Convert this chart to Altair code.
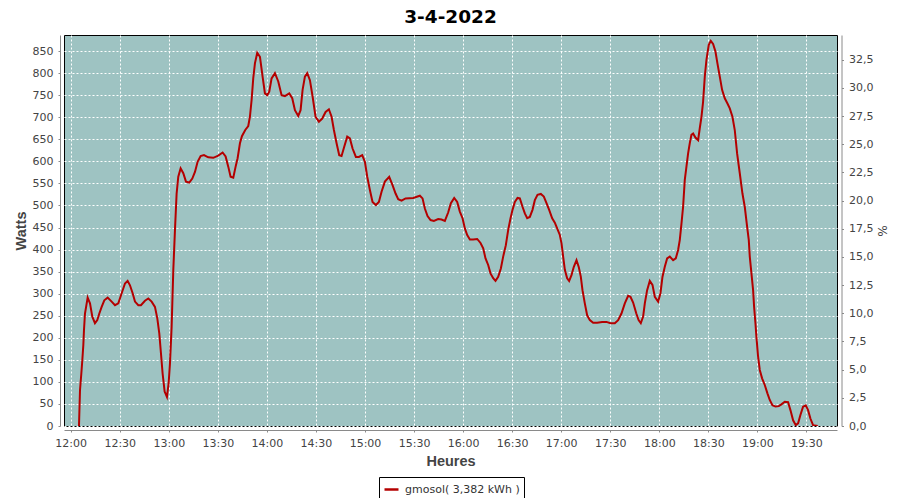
import altair as alt
import pandas as pd

# minutes after 12:00 and power readings (W)
minutes_after_noon = [
    5.07, 5.69, 6.50, 7.11, 7.72, 8.13, 8.74, 10.38, 11.80, 13.23, 14.86, 16.28, 17.51, 18.94, 20.56, 22.60,
    25.05, 27.09, 29.12, 31.17, 33.20, 34.83, 36.26, 37.89, 39.32, 41.35, 42.98, 45.43, 47.47, 49.51, 51.54,
    52.97, 54.19, 55.21, 56.23, 57.46, 58.88, 59.90, 60.72, 61.74, 62.75, 63.77, 64.79, 65.81, 67.24, 68.87,
    70.50, 72.53, 74.37, 76.00, 77.63, 79.47, 81.50, 84.15, 87.21, 90.27, 92.92, 94.75, 96.38, 97.81, 99.44,
    100.87, 102.09, 103.52, 104.74, 106.78, 108.61, 109.63, 110.65, 111.66, 112.69, 114.11, 115.75, 117.38,
    118.80, 120.23, 121.45, 122.88, 124.92, 126.95, 128.99, 131.03, 133.68, 135.51, 137.15, 139.18, 140.61,
    141.84, 143.26, 144.69, 146.32, 147.95, 149.78, 151.82, 153.86, 155.90, 157.93, 159.57, 160.99, 162.62,
    164.25, 165.68, 167.31, 169.14, 170.78, 172.41, 174.44, 176.28, 178.31, 179.95, 181.37, 183.00, 184.63,
    186.67, 188.51, 190.14, 192.18, 194.82, 196.86, 198.70, 200.33, 202.37, 204.81, 209.50, 213.58, 215.21,
    216.63, 218.26, 220.10, 222.14, 224.78, 226.82, 228.86, 230.88, 232.53, 234.57, 236.40, 238.03, 239.67,
    241.09, 242.52, 244.15, 246.18, 248.63, 250.67, 252.30, 253.73, 255.36, 256.78, 258.41, 259.84, 261.47,
    263.10, 264.53, 266.16, 267.58, 269.02, 270.24, 271.66, 273.30, 274.72, 276.35, 277.78, 279.20, 280.83,
    282.46, 283.89, 285.52, 287.56, 289.39, 291.03, 292.65, 294.49, 296.12, 297.54, 299.18, 300.20, 301.21,
    302.24, 303.66, 304.88, 306.31, 307.74, 309.37, 310.79, 312.02, 313.04, 314.46, 315.89, 317.52, 319.55,
    322.00, 325.06, 327.71, 330.16, 332.81, 334.84, 336.88, 338.92, 340.96, 342.39, 344.01, 345.95, 347.36,
    348.70, 350.13, 351.15, 352.57, 354.21, 355.84, 357.27, 359.30, 360.73, 361.95, 363.38, 364.80, 366.44,
    368.47, 370.10, 371.53, 372.55, 373.57, 374.58, 375.61, 376.63, 377.64, 378.66, 379.68, 380.70, 382.13,
    383.76, 384.78, 385.80, 386.81, 387.84, 388.86, 390.28, 391.51, 392.93, 394.36, 395.58, 397.01, 398.43,
    400.06, 401.70, 403.12, 404.76, 406.18, 407.60, 409.24, 410.87, 412.29, 413.72, 414.74, 415.35, 416.37,
    417.39, 418.00, 418.82, 419.43, 420.44, 421.47, 422.89, 424.52, 426.15, 427.58, 429.21, 431.05, 433.08,
    434.72, 436.75, 438.79, 440.22, 441.85, 443.48, 444.91, 446.33, 447.96, 449.59, 451.01, 452.44, 454.07,
    456.93,
]
watts = [
    0, 81, 119, 149, 183, 217, 255, 291, 278, 248, 233, 240, 255, 270, 285, 291,
    282, 274, 278, 301, 323, 329, 319, 301, 282, 274, 274, 284, 289, 282, 270,
    244, 210, 165, 119, 78, 66, 97, 142, 225, 353, 444, 527, 565, 584, 573,
    554, 552, 561, 576, 599, 612, 614, 609, 608, 613, 620, 611, 588, 565, 563,
    588, 607, 641, 657, 671, 680, 701, 739, 788, 822, 846, 837, 792,
    754, 750, 758, 788, 800, 781, 750, 748, 754, 743, 716, 703, 716,
    762, 792, 800, 784, 747, 701, 690, 697, 712, 718, 701, 671, 641,
    614, 612, 633, 656, 652, 629, 610, 610, 614, 599, 565, 535, 508,
    501, 508, 531, 554, 565, 546, 527, 514, 511, 516, 517, 522, 516,
    493, 476, 467, 465, 469, 468, 465, 484, 505, 517, 508, 486, 471,
    448, 433, 423, 423, 424, 415, 403, 380, 365, 346, 335, 329, 338,
    357, 384, 410, 444, 471, 490, 508, 517, 516, 497, 482, 471, 474,
    490, 512, 524, 526, 520, 505, 490, 471, 461, 448, 433, 414, 384,
    354, 335, 329, 342, 361, 376, 360, 338, 308, 278, 251, 240, 234,
    234, 236, 236, 233, 233, 240, 255, 278, 295, 293, 280, 255, 240,
    233, 248, 278, 308, 329, 320, 293, 282, 301, 338, 361, 380, 384,
    376, 380, 399, 422, 459, 497, 558, 588, 618, 641, 660, 663, 654,
    648, 675, 701, 735, 792, 830, 864, 873, 866, 849, 822, 792, 762,
    743, 731, 720, 701, 671, 618, 573, 527, 497, 452, 422, 384, 346,
    308, 270, 233, 202, 157, 127, 108, 93, 74, 59, 47, 44, 45,
    49, 55, 54, 36, 13, 2, 6, 25, 44, 47, 36, 17, 2,
    0,
]
series_label = "gmosol( 3,382 kWh )"
watt_ticks = list(range(0, 851, 50))
pct_ticks = [0, 2.5, 5, 7.5, 10, 12.5, 15, 17.5, 20, 22.5, 25, 27.5, 30, 32.5]
pct_range = [0, 34.7]
watt_max = 886.4
hour_ticks = [(h, m) for h in range(12, 20) for m in (0, 30)]

base = pd.Timestamp("2022-04-03 12:00:00")
times = [(base + pd.Timedelta(minutes=m)).strftime("%Y-%m-%dT%H:%M:%S") for m in minutes_after_noon]
df = pd.DataFrame({"time": times, "watts": watts, "serie": series_label})

tick_font = "DejaVu Sans"
title_font = "Liberation Sans"
axis_gray = "#8a8a8a"
text_gray = "#444444"

x_domain = [
    alt.DateTime(year=2022, month=4, date=3, hours=11, minutes=55, seconds=54),
    alt.DateTime(year=2022, month=4, date=3, hours=19, minutes=48, seconds=42),
]
x_values = [alt.DateTime(year=2022, month=4, date=3, hours=h, minutes=m) for h, m in hour_ticks]

line = alt.Chart(df).mark_line(strokeWidth=2, clip=True).encode(
    x=alt.X(
        "time:T",
        scale=alt.Scale(domain=x_domain, nice=False),
        axis=alt.Axis(
            format="%H:%M",
            values=x_values,
            title="Heures",
            offset=4,
            grid=True,
            titleX=386.5,
            titleY=35,
            titleAlign="center",
            titleBaseline="alphabetic",
        ),
    ),
    y=alt.Y(
        "watts:Q",
        scale=alt.Scale(domain=[0, watt_max], nice=False),
        axis=alt.Axis(
            orient="left",
            values=watt_ticks,
            title="Watts",
            offset=4,
            grid=True,
            titleAngle=270,
            titleX=-39,
            titleY=195.5,
            titleAlign="center",
            titleBaseline="middle",
        ),
    ),
    color=alt.Color(
        "serie:N",
        scale=alt.Scale(domain=[series_label], range=["#B40000"]),
        legend=alt.Legend(
            title=None,
            orient="none",
            legendX=315,
            legendY=442,
            strokeColor="black",
            fillColor="white",
            padding=4,
            symbolType="stroke",
            symbolSize=196,
            symbolStrokeWidth=2.5,
            labelFont=tick_font,
            labelFontSize=11,
            labelColor="#333333",
            labelOffset=5,
        ),
    ),
)

right = alt.Chart(pd.DataFrame({"pct": pct_range})).mark_point(opacity=0).encode(
    y=alt.Y(
        "pct:Q",
        scale=alt.Scale(domain=pct_range, nice=False),
        axis=alt.Axis(
            orient="right",
            values=pct_ticks,
            labelExpr="floor(datum.value) + ',' + (datum.value % 1 > 0 ? '5' : '0')",
            title="%",
            offset=4.5,
            grid=False,
            titleAngle=90,
            titleX=39.5,
            titleY=195.5,
            titleAlign="center",
            titleBaseline="middle",
            titleFontWeight="normal",
            titleFont=tick_font,
            titleFontSize=12,
        ),
    )
)

chart = (
    alt.layer(right, line)
    .resolve_scale(y="independent")
    .properties(
        width=773,
        height=391,
        autosize="none",
        padding={"left": 56, "top": 27, "right": 55, "bottom": 72},
        background="white",
        title=alt.TitleParams(
            text="3-4-2022",
            font="DejaVu Sans",
            fontSize=18.5,
            fontWeight="bold",
            color="black",
            anchor="middle",
            frame="group",
            offset=5.5,
        ),
    )
    .configure_view(fill="#9EC3C2", stroke="black", strokeWidth=1)
    .configure_axis(
        labelFont=tick_font,
        labelFontSize=11,
        labelColor=text_gray,
        labelPadding=5,
        tickSize=2,
        tickColor=axis_gray,
        domainColor=axis_gray,
        domainWidth=1,
        gridColor="white",
        gridDash=[2, 2],
        gridWidth=1,
        gridOpacity=1,
        titleFont=title_font,
        titleFontSize=14.5,
        titleFontWeight="bold",
        titleColor=text_gray,
        labelFlush=False,
        labelOverlap=False,
    )
)

chart.save("out.html", embed_options={"renderer": "svg", "actions": False})
